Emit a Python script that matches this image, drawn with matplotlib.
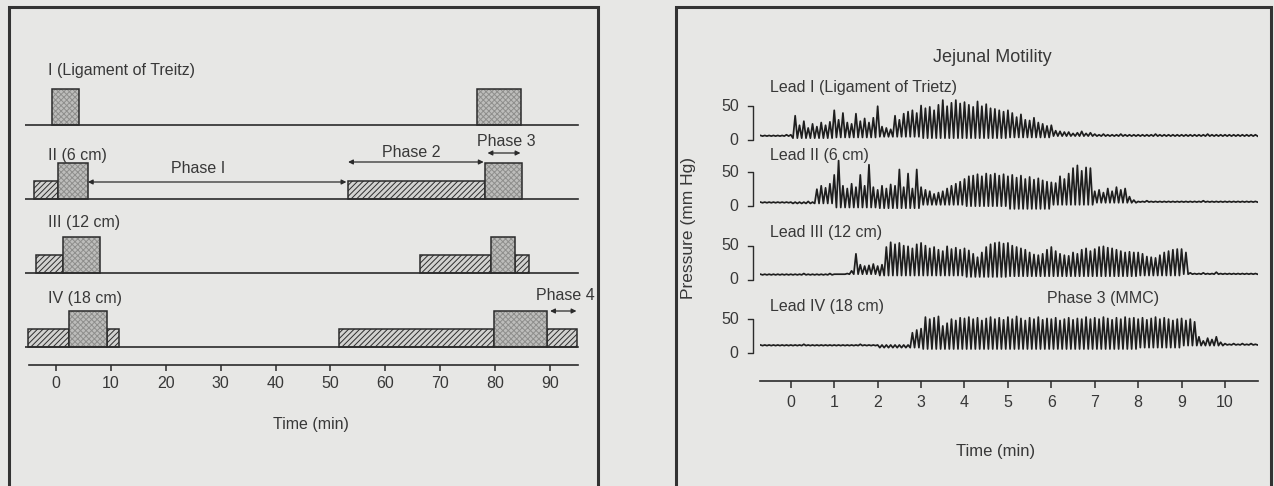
import numpy as np
import matplotlib.pyplot as plt
from matplotlib.patches import Rectangle

plt.rcParams['font.family'] = ['Liberation Sans', 'DejaVu Sans']
plt.rcParams['hatch.linewidth'] = 0.7

PAPER = '#e7e7e5'
INK = '#2b2b2b'
W, H = 1274, 486

# ---- left panel: MMC phases per lead, (start, end) in minutes ----
lead_names = ["I (Ligament of Treitz)", "II (6 cm)", "III (12 cm)", "IV (18 cm)"]
phase3_bars = [[(-0.7, 4.2), (76.7, 84.7)],
               [(0.4, 5.8), (78.1, 84.9)],
               [(1.3, 8.0), (79.2, 83.6)],
               [(2.4, 9.3), (79.8, 89.4)]]
phase2_bars = [[],
               [(-4.0, 0.4), (53.2, 78.1)],
               [(-3.6, 1.3), (66.3, 79.2), (83.6, 86.2)],
               [(-5.1, 2.4), (9.3, 11.5), (51.5, 79.8), (89.4, 94.9)]]
phase_arrows = [("Phase I", 5.8, 52.9), ("Phase 2", 53.2, 77.9),
                ("Phase 3", 78.6, 84.6), ("Phase 4", 90.0, 94.8)]
left_ticks = [0, 10, 20, 30, 40, 50, 60, 70, 80, 90]

# ---- right panel: pressure traces (mm Hg), one spike every 0.1 min from -0.7 ----
trace_labels = ["Lead I (Ligament of Trietz)", "Lead II (6 cm)",
                "Lead III (12 cm)", "Lead IV (18 cm)"]
t_start = -0.7
lead1_peaks = [7, 7, 7, 7, 7, 7, 8,
               8, 36, 22, 28, 18, 24, 20, 26, 22, 27,
               44, 30, 40, 26, 24, 39, 28, 32, 26, 33,
               50, 20, 18, 16, 36, 30, 39, 42, 44, 40,
               51, 47, 49, 44, 52, 59, 50, 55, 59, 54,
               56, 52, 49, 57, 50, 53, 47, 46, 44, 42,
               44, 40, 34, 38, 30, 29, 33, 26, 24, 21,
               22, 14, 13, 12, 12, 10, 11, 13, 10, 11,
               9, 8, 9, 8, 8, 8, 9, 8, 8, 8,
               8, 8, 8, 8, 9, 8, 8, 8, 8, 8,
               8, 8, 8, 8, 8, 8, 9, 8, 8, 8,
               8, 8, 8, 8, 8, 8, 8, 8]
lead2_peaks = [6, 6, 6, 6, 6, 6, 6,
               6, 6, 6, 6, 7, 6, 25, 30, 27, 33,
               46, 67, 30, 26, 33, 28, 46, 30, 61, 28,
               24, 30, 26, 32, 30, 54, 28, 48, 26, 54,
               28, 24, 22, 18, 20, 22, 26, 30, 33, 36,
               40, 44, 45, 47, 44, 48, 46, 48, 45, 47,
               44, 46, 42, 45, 40, 43, 39, 41, 38, 36,
               35, 34, 44, 40, 48, 56, 60, 52, 57, 56,
               22, 24, 20, 26, 22, 28, 24, 26, 14, 9,
               7, 7, 8, 7, 7, 7, 7, 7, 7, 7,
               7, 7, 7, 7, 7, 8, 7, 7, 7, 7,
               7, 7, 7, 7, 7, 7, 7, 7]
lead3_peaks = [8, 8, 8, 8, 8, 8, 8,
               8, 8, 8, 9, 8, 8, 8, 8, 8, 9,
               8, 8, 8, 9, 13, 38, 22, 20, 21, 23,
               20, 22, 48, 55, 52, 54, 50, 49, 46, 52,
               54, 50, 46, 48, 44, 42, 49, 45, 47, 44,
               46, 43, 38, 33, 40, 48, 52, 54, 55, 53,
               54, 50, 48, 46, 44, 40, 37, 36, 38, 44,
               48, 42, 38, 36, 35, 40, 38, 44, 46, 42,
               45, 48, 49, 47, 46, 44, 42, 40, 41, 40,
               40, 38, 34, 33, 32, 36, 40, 42, 44, 45,
               45, 40, 10, 9, 9, 10, 9, 9, 11, 9,
               9, 9, 9, 9, 9, 9, 9, 9]
lead4_peaks = [12, 12, 12, 12, 12, 12, 12,
               12, 12, 12, 13, 12, 12, 12, 12, 12, 12,
               12, 12, 12, 12, 12, 12, 13, 12, 12, 12,
               12, 12, 12, 12, 12, 12, 12, 12, 30, 34,
               36, 53, 50, 52, 54, 40, 44, 50, 48, 52,
               51, 53, 50, 52, 48, 51, 53, 50, 52, 49,
               53, 50, 54, 51, 48, 52, 50, 53, 49, 51,
               50, 52, 48, 50, 52, 49, 51, 50, 53, 50,
               52, 50, 53, 51, 49, 52, 50, 53, 51, 52,
               50, 52, 49, 51, 53, 50, 52, 50, 48, 50,
               51, 48, 50, 46, 24, 18, 22, 20, 24, 16,
               14, 13, 14, 13, 14, 13, 14, 13]
# trough level between spikes, per whole minute from -1 to 10
lead1_troughs = [6, 3, 4, 5, 3, 3, 4, 6, 6, 6, 6, 6]
lead2_troughs = [5, 4, -2, -3, 2, 0, -4, 2, 5, 6, 6, 6]
lead3_troughs = [7, 7, 8, 6, 6, 4, 5, 5, 5, 6, 8, 8]
lead4_troughs = [11, 11, 11, 8, 6, 6, 6, 6, 6, 8, 11, 12]
right_ticks = [0, 1, 2, 3, 4, 5, 6, 7, 8, 9, 10]

fig = plt.figure(figsize=(W / 100, H / 100), dpi=100, facecolor=PAPER)


def px_axes(l, t, r, b):
    ax = fig.add_axes([l / W, 1 - b / H, (r - l) / W, (b - t) / H])
    ax.set_facecolor('none')
    for s in ['left', 'right', 'top']:
        ax.spines[s].set_visible(False)
    ax.spines['bottom'].set_color(INK)
    ax.spines['bottom'].set_linewidth(1.2)
    ax.tick_params(axis='x', colors=INK, labelsize=11.5, length=4, width=1.1, pad=4)
    ax.tick_params(axis='x', labelcolor='#383838')
    ax.set_yticks([])
    return ax


# panel frames
for x0, x1 in [(9, 598), (676, 1271)]:
    fig.add_artist(Rectangle((x0 / W, -0.1), (x1 - x0) / W, 1.1 - 7 / H,
                             transform=fig.transFigure, fill=False,
                             ec='#333333', lw=2.2))

# ---------------- left panel ----------------
ax = px_axes(24.7, 40, 579.2, 365)
ax.set_xlim(-5.7, 95.3)
ax.set_ylim(0, 325)
ax.spines['bottom'].set_bounds(-5, 95)
ax.set_xticks(left_ticks)

baselines = [240, 166, 92, 18]
label_y = [295, 210, 143, 67]
for i, name in enumerate(lead_names):
    base = baselines[i]
    ax.plot([-5.6, 95.1], [base, base], color=INK, lw=1.2)
    ax.text(-1.5, label_y[i], name, fontsize=11.5, color='#383838', va='center')
    for s, e in phase2_bars[i]:
        ax.bar(x=s, height=18, width=e - s, bottom=base, align='edge',
               color='#d2d2d0', edgecolor='#2e2e2e', hatch='//////', lw=0)
        ax.bar(x=s, height=18, width=e - s, bottom=base, align='edge',
               fill=False, edgecolor=INK, lw=1.1)
    for s, e in phase3_bars[i]:
        ax.bar(x=s, height=36, width=e - s, bottom=base, align='edge',
               color='#bdbdbb', edgecolor='#8e8e8c', hatch='xxxxxx', lw=0)
        ax.bar(x=s, height=36, width=e - s, bottom=base, align='edge',
               fill=False, edgecolor=INK, lw=1.1)

arrow_y = [183, 203, 212, 54]
text_pos = [(25.9, 197), (64.7, 213), (82.1, 224), (92.7, 69)]
for (lab, a, b), y, (tx, ty) in zip(phase_arrows, arrow_y, text_pos):
    ax.annotate('', xy=(a, y), xytext=(b, y),
                arrowprops=dict(arrowstyle='<|-|>', color=INK, lw=0.9,
                                shrinkA=0, shrinkB=0, mutation_scale=7))
    ax.text(tx, ty, lab, fontsize=11.5, color='#383838', ha='center', va='center',
            clip_on=False)
ax.text(46.4, -59, "Time (min)", fontsize=11.5, color='#383838', ha='center', va='center')

# ---------------- right panel ----------------
ax2 = px_axes(760, 30, 1258, 381)
ax2.set_xlim(-0.71, 10.76)
ax2.set_ylim(0, 516)
ax2.set_xticks(right_ticks)
ax2.tick_params(axis='x', length=5, pad=5)

zeros = [354, 257, 149, 41]
trace_label_y = [431, 331, 218, 110]
peaks = [lead1_peaks, lead2_peaks, lead3_peaks, lead4_peaks]
troughs = [lead1_troughs, lead2_troughs, lead3_troughs, lead4_troughs]
for i in range(4):
    p = np.array(peaks[i], dtype=float)
    t = t_start + 0.1 * np.arange(len(p))
    tr = np.array(troughs[i], dtype=float)[(np.floor(t + 1e-9) + 1).astype(int)]
    xs = np.column_stack([t, t + 0.05]).ravel()
    ys = np.column_stack([p, tr]).ravel() + zeros[i]
    ax2.plot(xs, ys, color='#1e1e1e', lw=1.25)
    z = zeros[i]
    ax2.plot([-0.99, -0.88, -0.88, -0.99], [z + 50, z + 50, z, z], color=INK,
             lw=1.0, clip_on=False)
    ax2.text(-1.2, z + 50, "50", fontsize=11.5, color='#383838', ha='right',
             va='center', clip_on=False)
    ax2.text(-1.2, z, "0", fontsize=11.5, color='#383838', ha='right',
             va='center', clip_on=False)
    ax2.text(-0.48, trace_label_y[i], trace_labels[i], fontsize=11.5,
             color='#383838', va='center')

ax2.text(4.65, 476, "Jejunal Motility", fontsize=13, color='#383838',
         ha='center', va='center')
ax2.text(7.19, 122, "Phase 3 (MMC)", fontsize=11.5, color='#383838',
         ha='center', va='center')
ax2.text(4.72, -104, "Time (min)", fontsize=12, color='#383838',
         ha='center', va='center')
fig.text(688 / W, 1 - 228 / H, "Pressure (mm Hg)", rotation=90, fontsize=12.5,
         color='#383838', ha='center', va='center')

fig.savefig('out.png', dpi=100, facecolor=PAPER)
